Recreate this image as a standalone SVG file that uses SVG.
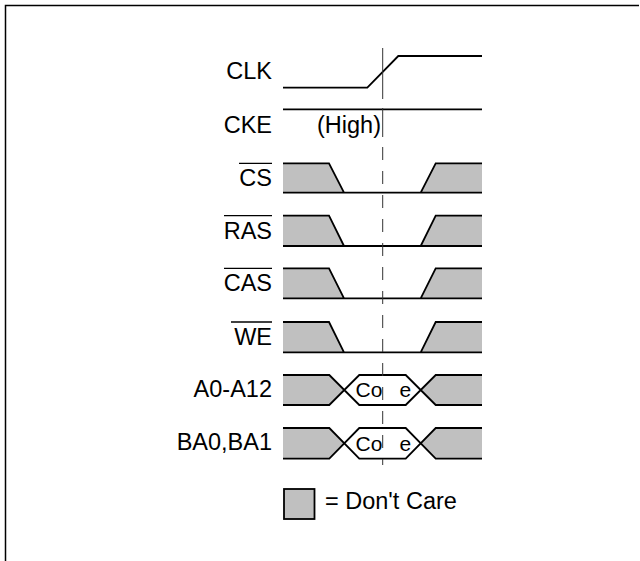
<svg xmlns="http://www.w3.org/2000/svg" width="640" height="561" viewBox="0 0 640 561">
<style>
text{font-family:"Liberation Sans",Arial,Helvetica,sans-serif;fill:#000}
.lbl{font-size:23.5px;text-anchor:end}
.code{font-size:21px}
.sig{fill:none;stroke:#000;stroke-width:1.8;stroke-linejoin:miter}
.dc{fill:#c0c0c0;stroke:none}
.ovl{stroke:#000;stroke-width:1.3}
.guide{stroke:#333;stroke-width:1}
</style>
<rect width="640" height="561" fill="#fff"/>
<path d="M5.5,561 V5.5 H639" fill="none" stroke="#000" stroke-width="1.5"/>

<g id="clk">
<text class="lbl" x="272" y="79">CLK</text>
<path class="sig" d="M283,87.7 H367.3 L398.3,56 H482"/>
</g>

<g id="cke">
<text class="lbl" x="272" y="132.5">CKE</text>
<text style="font-size:23.5px" x="317" y="132.5">(High)</text>
<path class="sig" d="M283,109.3 H482"/>
</g>

<g id="cs">
<text class="lbl" x="272" y="186">CS</text>
<line class="ovl" x1="239" y1="163.3" x2="272" y2="163.3"/>
<polygon class="dc" points="283,163.3 329,163.3 344,192.7 283,192.7"/>
<polygon class="dc" points="420.7,192.7 435.7,163.3 482,163.3 482,192.7"/>
<path class="sig" d="M283,163.3 H329 L344,192.7 H420.7 L435.7,163.3 H482 M283,192.7 H344 M420.7,192.7 H482"/>
</g>

<g id="ras">
<text class="lbl" x="272" y="238.5">RAS</text>
<line class="ovl" x1="224" y1="215.7" x2="272" y2="215.7"/>
<polygon class="dc" points="283,215.7 329,215.7 344,246 283,246"/>
<polygon class="dc" points="420.7,246 435.7,215.7 482,215.7 482,246"/>
<path class="sig" d="M283,215.7 H329 L344,246 H420.7 L435.7,215.7 H482 M283,246 H344 M420.7,246 H482"/>
</g>

<g id="cas">
<text class="lbl" x="272" y="291">CAS</text>
<line class="ovl" x1="224" y1="268.3" x2="272" y2="268.3"/>
<polygon class="dc" points="283,268.3 329,268.3 344,298.3 283,298.3"/>
<polygon class="dc" points="420.7,298.3 435.7,268.3 482,268.3 482,298.3"/>
<path class="sig" d="M283,268.3 H329 L344,298.3 H420.7 L435.7,268.3 H482 M283,298.3 H344 M420.7,298.3 H482"/>
</g>

<g id="we">
<text class="lbl" x="272" y="344.5">WE</text>
<line class="ovl" x1="231" y1="322" x2="272" y2="322"/>
<polygon class="dc" points="283,322 329,322 344,352.3 283,352.3"/>
<polygon class="dc" points="420.7,352.3 435.7,322 482,322 482,352.3"/>
<path class="sig" d="M283,322 H329 L344,352.3 H420.7 L435.7,322 H482 M283,352.3 H344 M420.7,352.3 H482"/>
</g>

<g id="addr">
<text class="lbl" x="272" y="397">A0-A12</text>
<polygon class="dc" points="283,375 329.3,375 344.3,390 329.3,405 283,405"/>
<polygon class="dc" points="482,375 435.7,375 420.7,390 435.7,405 482,405"/>
<path class="sig" d="M283,375 H329.3 L359.3,405 H405.7 L435.7,375 H482 M283,405 H329.3 L359.3,375 H405.7 L435.7,405 H482"/>
<text class="code" y="396.5"><tspan x="355.5">Co</tspan><tspan x="399.5">e</tspan></text>
</g>

<g id="bank">
<text class="lbl" x="272" y="450">BA0,BA1</text>
<polygon class="dc" points="283,428 329.3,428 344.3,443.3 329.3,458.7 283,458.7"/>
<polygon class="dc" points="482,428 435.7,428 420.7,443.3 435.7,458.7 482,458.7"/>
<path class="sig" d="M283,428 H329.3 L359.3,458.7 H405.7 L435.7,428 H482 M283,458.7 H329.3 L359.3,428 H405.7 L435.7,458.7 H482"/>
<text class="code" y="450.5"><tspan x="355.5">Co</tspan><tspan x="399.5">e</tspan></text>
</g>

<g id="connectors">
<path class="guide" d="M382.7,48 V99 M382.7,108 V137"/>
<path class="guide" d="M382.7,147 V465" stroke-dasharray="13 11"/>
</g>

<g id="legend">
<rect x="284" y="489" width="30.5" height="30" fill="#c0c0c0" stroke="#000" stroke-width="1.8"/>
<text style="font-size:23.5px" x="325" y="508.5">= Don't Care</text>
</g>
</svg>
